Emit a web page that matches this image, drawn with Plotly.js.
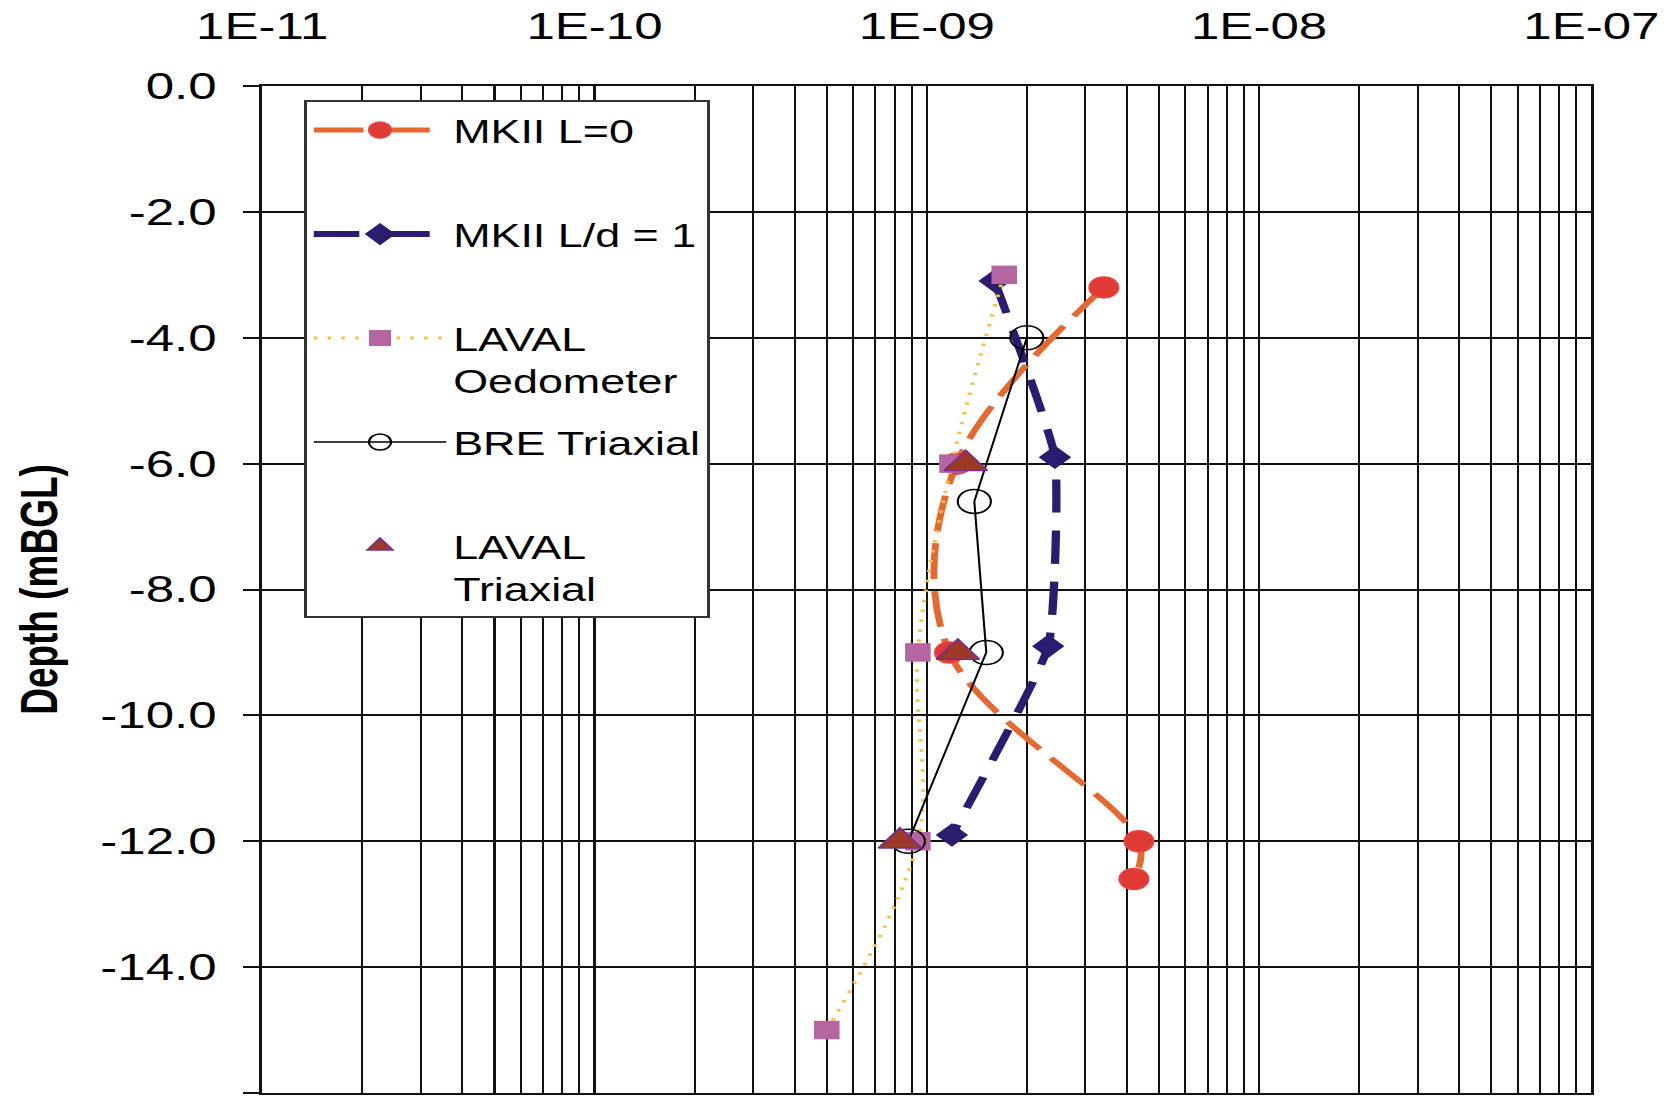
<!DOCTYPE html>
<html>
<head>
<meta charset="utf-8">
<script src="https://cdn.plot.ly/plotly-3.0.1.min.js"></script>
<style>
  html, body { margin: 0; padding: 0; background: #ffffff; overflow: hidden; }
  /* the reference chart is stretched horizontally; reproduce that stretch */
  #chart { width: 1215px; height: 1108px; transform: scaleX(1.3802); transform-origin: 0 0; }
</style>
</head>
<body>
<div id="chart"></div>
<script>
// ---- data (permeability k, depth in mBGL) ----
const seriesNames = ['MKII L=0', 'MKII L/d = 1', 'LAVAL<br>Oedometer', 'BRE Triaxial', 'LAVAL<br>Triaxial'];

const mkiiL0Perm  = [3.41e-9, 1.23e-9, 1.17e-9, 4.35e-9, 4.20e-9];
const mkiiL0Depth = [-3.2, -6.0, -9.0, -12.0, -12.6];

const mkiiLd1Perm  = [1.60e-9, 2.43e-9, 2.32e-9, 1.19e-9];
const mkiiLd1Depth = [-3.1, -5.9, -8.9, -11.9];

const lavalOedPerm  = [1.71e-9, 1.19e-9, 9.4e-10, 9.4e-10, 5.0e-10];
const lavalOedDepth = [-3.0, -6.0, -9.0, -12.0, -15.0];

const breTriPerm  = [2.0e-9, 1.39e-9, 1.51e-9, 8.8e-10];
const breTriDepth = [-4.0, -6.6, -9.0, -12.0];

const lavalTriPerm  = [1.31e-9, 1.24e-9, 8.3e-10];
const lavalTriDepth = [-6.0, -9.0, -12.0];

// ---- tick labels ----
const xDecades = [1e-11, 1e-10, 1e-9, 1e-8, 1e-7];
const xDecadeLabels = ['1E-11', '1E-10', '1E-09', '1E-08', '1E-07'];
const yTickVals = [0, -2, -4, -6, -8, -10, -12, -14, -16];
const yTickLabels = ['0.0', '-2.0', '-4.0', '-6.0', '-8.0', '-10.0', '-12.0', '-14.0', '-16.0'];

// log grid: a line at every 1..9 multiple of each decade
const xGridVals = [];
const xGridText = [];
for (let i = 0; i < xDecades.length; i++) {
  const mults = (i < xDecades.length - 1) ? [1, 2, 3, 4, 5, 6, 7, 8, 9] : [1];
  for (const m of mults) {
    xGridVals.push(xDecades[i] * m);
    xGridText.push(m === 1 ? xDecadeLabels[i] : '');
  }
}

const FONT = 'Liberation Sans, Arial, Helvetica, sans-serif';
const blank = '<br>\u00a0';

const traces = [
  {
    name: seriesNames[0] + blank, x: mkiiL0Perm, y: mkiiL0Depth, legendgroup: 'g1',
    type: 'scatter', mode: 'lines+markers',
    line: { color: '#e5692f', width: 5, dash: '36px,12px', shape: 'spline', smoothing: 1 },
    marker: { symbol: 'circle', size: 21, color: '#e03a35', line: { color: '#e8433d', width: 1.5 } }
  },
  {
    name: seriesNames[1] + blank, x: mkiiLd1Perm, y: mkiiLd1Depth, legendgroup: 'g2',
    type: 'scatter', mode: 'lines+markers',
    line: { color: '#2b1c70', width: 6, dash: '33px,18px', shape: 'spline', smoothing: 0.4 },
    marker: { symbol: 'diamond', size: 17, color: '#2b1c70', line: { color: '#2b1c70', width: 1 } }
  },
  {
    name: seriesNames[2], x: lavalOedPerm, y: lavalOedDepth, legendgroup: 'g3',
    type: 'scatter', mode: 'lines+markers',
    line: { color: '#f5c244', width: 3, dash: '2.5px,7.5px', shape: 'spline', smoothing: 1 },
    marker: { symbol: 'square', size: 18.5, color: '#b565a0' }
  },
  {
    name: seriesNames[3] + blank, x: breTriPerm, y: breTriDepth, legendgroup: 'g4',
    type: 'scatter', mode: 'lines+markers',
    line: { color: '#000000', width: 1.5 },
    marker: { symbol: 'circle-open', size: 24, color: '#000000', line: { width: 1.5 } }
  },
  {
    name: seriesNames[4], x: lavalTriPerm, y: lavalTriDepth, legendgroup: 'g5',
    type: 'scatter', mode: 'markers',
    marker: { symbol: 'triangle-up', size: 27, color: '#9c3a26', line: { color: '#7a2e8c', width: 1.5 } }
  }
];

const layout = {
  width: 1215, height: 1108,
  margin: { l: 190, r: 62, t: 86, b: 15, pad: 0 },
  paper_bgcolor: '#ffffff', plot_bgcolor: '#ffffff',
  font: { family: FONT, size: 37, color: '#000000' },
  showlegend: true,
  xaxis: {
    type: 'log', range: [-11, -7], side: 'top',
    tickmode: 'array', tickvals: xGridVals, ticktext: xGridText,
    ticks: '', ticklabelstandoff: 30,
    tickfont: { family: FONT, size: 37, color: '#000000' },
    showgrid: true, gridcolor: '#111111', gridwidth: 1.5,
    showline: true, linecolor: '#111111', linewidth: 2, mirror: true,
    zeroline: false, automargin: false, fixedrange: true
  },
  yaxis: {
    range: [-16, 0],
    tickmode: 'array', tickvals: yTickVals, ticktext: yTickLabels,
    ticks: 'outside', ticklen: 11.6, tickwidth: 2, tickcolor: '#111111',
    ticklabelstandoff: 12,
    tickfont: { family: FONT, size: 37, color: '#000000' },
    showgrid: true, gridcolor: '#111111', gridwidth: 2,
    showline: true, linecolor: '#111111', linewidth: 2, mirror: true,
    zeroline: false, automargin: false, fixedrange: true,
    title: { text: 'Depth (mBGL)', standoff: 19.5, font: { family: FONT, size: 37, weight: 'bold', color: '#000000' } }
  },
  legend: {
    x: 0.0315, y: 0.9857, xanchor: 'left', yanchor: 'top',
    bgcolor: '#ffffff', bordercolor: '#333333', borderwidth: 2,
    font: { family: FONT, size: 32.5, color: '#000000' },
    itemwidth: 96, traceorder: 'grouped', tracegroupgap: 16.5, valign: 'top',
    itemclick: false, itemdoubleclick: false
  }
};

Plotly.newPlot('chart', traces, layout, { staticPlot: true, displayModeBar: false });
</script>
</body>
</html>
